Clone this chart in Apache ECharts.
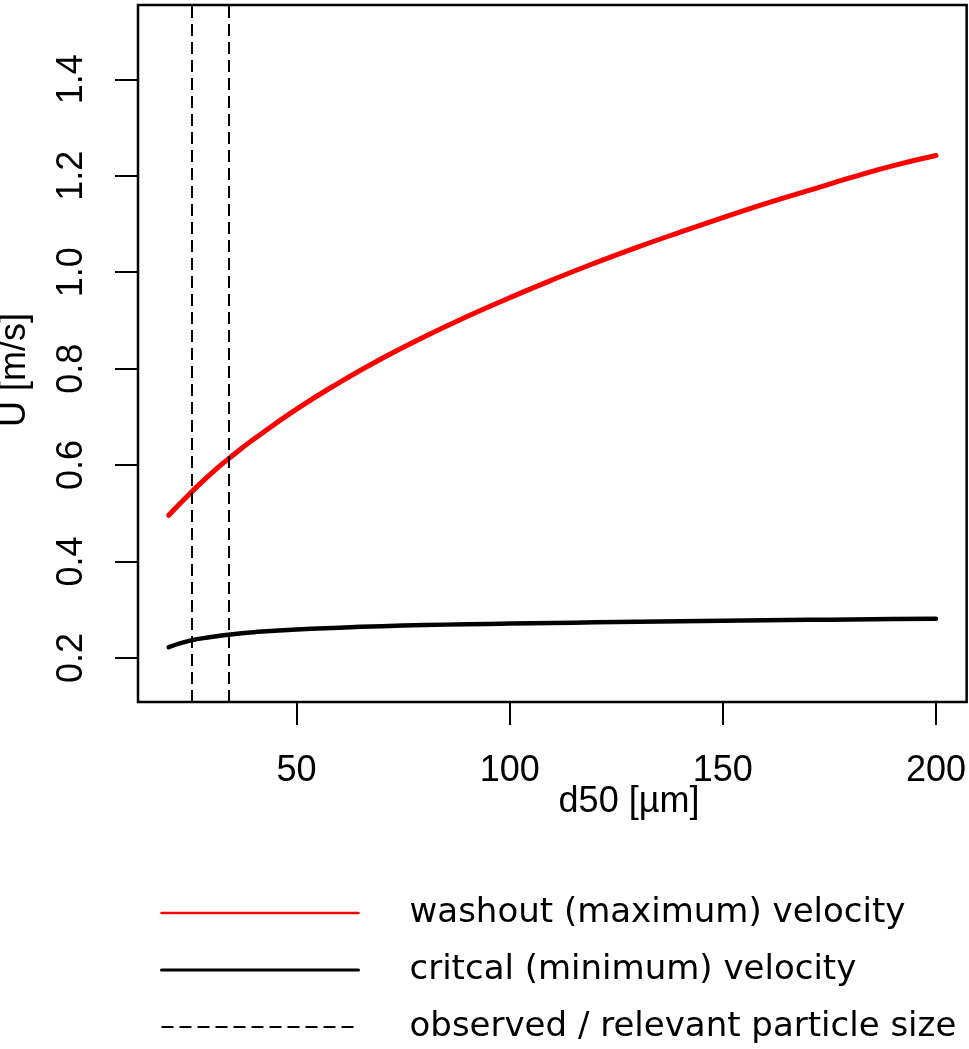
<!DOCTYPE html>
<html>
<head>
<meta charset="utf-8">
<script src="https://cdn.jsdelivr.net/npm/echarts/dist/echarts.min.js"></script>
<style>
html,body{margin:0;padding:0;background:#fff;}
#chart{width:969px;height:1049px;}
</style>
</head>
<body>
<div id="chart"></div>
<script>
// d50 [µm]
const d50 = [20, 25, 30, 35, 40, 50, 60, 70, 80, 90, 100, 110, 120, 130, 140, 150, 160, 170, 180, 190, 200];
// washout (maximum) velocity [m/s]
const washout = [0.496, 0.541, 0.583, 0.620, 0.654, 0.716, 0.771, 0.821, 0.866, 0.908, 0.947, 0.984, 1.019, 1.052, 1.083, 1.113, 1.142, 1.169, 1.196, 1.221, 1.242];
// critical (minimum) velocity [m/s]
const critical = [0.2226, 0.236, 0.2435, 0.2495, 0.2535, 0.2593, 0.2630, 0.2660, 0.2683, 0.2700, 0.2714, 0.2727, 0.2740, 0.2752, 0.2763, 0.2773, 0.2782, 0.2791, 0.2799, 0.2807, 0.2815];
// observed / relevant particle sizes [µm]
const particleSizes = [25.4, 34.2];
const xTicks = [50, 100, 150, 200];
const yTicks = [0.2, 0.4, 0.6, 0.8, 1.0, 1.2, 1.4];
const seriesNames = ['washout (maximum) velocity', 'critcal (minimum) velocity', 'observed / relevant particle size'];

const chart = echarts.init(document.getElementById('chart'), null, {renderer: 'canvas'});
const axisFont = 'Liberation Sans, Arial, sans-serif';
const option = {
  animation: false,
  backgroundColor: '#ffffff',
  grid: {
    left: 138, right: 2, top: 5, bottom: 347,
    show: true, borderColor: '#000', borderWidth: 2.5, backgroundColor: 'transparent'
  },
  xAxis: {
    type: 'value', min: 12.8, max: 207.2,
    axisLine: {show: false},
    splitLine: {show: false},
    axisTick: {show: true, length: 23, customValues: xTicks, lineStyle: {color: '#000', width: 2}},
    axisLabel: {customValues: xTicks, margin: 51, fontFamily: axisFont, fontSize: 36, color: '#000',
      formatter: v => String(v)}
  },
  yAxis: {
    type: 'value', min: 0.1088, max: 1.554,
    axisLine: {show: false},
    splitLine: {show: false},
    axisTick: {show: true, length: 23, customValues: yTicks, lineStyle: {color: '#000', width: 2}},
    axisLabel: {customValues: yTicks, rotate: 90, margin: 48, fontFamily: axisFont, fontSize: 36, color: '#000',
      formatter: v => v.toFixed(1)}
  },
  legend: {
    orient: 'vertical', left: 160, top: 893, itemGap: 17, padding: 0,
    itemWidth: 197, itemHeight: 14,
    selectedMode: false,
    itemStyle: {opacity: 0},
    textStyle: {fontFamily: 'DejaVu Sans', fontSize: 34, color: '#000', lineHeight: 40, padding: [0, 0, 0, 46]},
    data: [
      {name: seriesNames[0], lineStyle: {width: 2.5}},
      {name: seriesNames[1], lineStyle: {width: 3}},
      {name: seriesNames[2], lineStyle: {width: 2, type: [12, 6]}}
    ]
  },
  series: [
    {
      name: seriesNames[0], type: 'line', symbol: 'none', smooth: true,
      data: d50.map((d, i) => [d, washout[i]]),
      lineStyle: {color: '#ff0000', width: 5, cap: 'round'},
      itemStyle: {color: '#ff0000'}
    },
    {
      name: seriesNames[1], type: 'line', symbol: 'none', smooth: true,
      data: d50.map((d, i) => [d, critical[i]]),
      lineStyle: {color: '#000000', width: 4.5, cap: 'round'},
      itemStyle: {color: '#000000'}
    },
    {
      name: seriesNames[2], type: 'line', symbol: 'none',
      data: [],
      lineStyle: {color: '#000000', width: 2, type: [12, 6]},
      itemStyle: {color: '#000000'},
      markLine: {
        silent: true, symbol: ['none', 'none'],
        label: {show: false},
        lineStyle: {color: '#000000', width: 2, type: [12, 6]},
        data: particleSizes.map(v => ({xAxis: v}))
      }
    }
  ],
  graphic: [
    {type: 'text', x: 629, y: 802,
      style: {text: 'd50 [µm]', fontFamily: axisFont, fontSize: 36, fill: '#000', textAlign: 'center', textVerticalAlign: 'middle'}},
    {type: 'text', x: 15, y: 370, rotation: Math.PI / 2,
      style: {text: 'U [m/s]', fontFamily: axisFont, fontSize: 36, fill: '#000', textAlign: 'center', textVerticalAlign: 'middle'}}
  ]
};
chart.setOption(option);
</script>
</body>
</html>
